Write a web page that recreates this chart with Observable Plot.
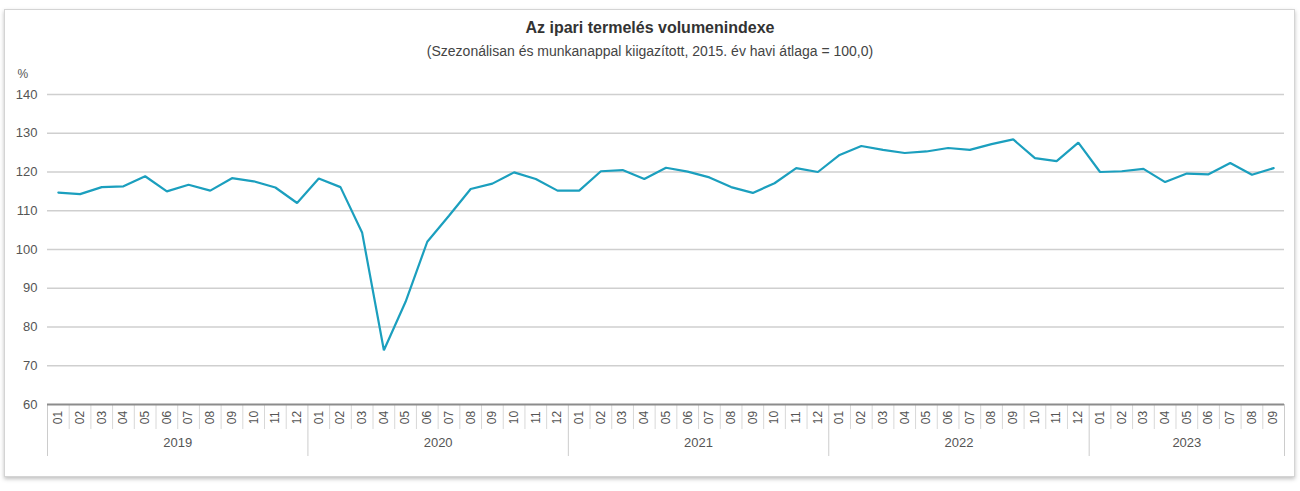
<!DOCTYPE html>
<html>
<head>
<meta charset="utf-8">
<script src="https://cdn.jsdelivr.net/npm/d3@7"></script>
<script src="https://cdn.jsdelivr.net/npm/@observablehq/plot@0.6"></script>
<style>
  html, body { margin: 0; padding: 0; background: #fff; }
  body { font-family: "Liberation Sans", Arial, sans-serif; }
  #wrap { position: relative; width: 1300px; height: 491px; overflow: hidden; }
  #card { position: absolute; left: 4px; top: 9px; width: 1289px; height: 466px;
          border: 1px solid #d4d4d4; box-shadow: 0 2px 4px rgba(0,0,0,0.25); background: #fff; }
  #header { position: relative; height: 64px; }
  #title { position: absolute; left: 0; width: 1300px; top: 18px; text-align: center;
           font-size: 16px; font-weight: bold; color: #333; line-height: 19px; }
  #subtitle { position: absolute; left: 0; width: 1300px; top: 43px; text-align: center;
              font-size: 14px; color: #444; line-height: 17px; }
  #chart { position: relative; }
</style>
</head>
<body>
<div id="wrap">
  <div id="card"></div>
  <div id="header">
    <div id="title"></div>
    <div id="subtitle"></div>
  </div>
  <div id="chart"></div>
</div>
<script>
const titleText = "Az ipari termelés volumenindexe";
const subtitleText = "(Szezonálisan és munkanappal kiigazított, 2015. év havi átlaga = 100,0)";
const unitLabel = "%";

const years = ["2019", "2020", "2021", "2022", "2023"];
const monthLabels = ["01","02","03","04","05","06","07","08","09","10","11","12"];
const monthsPerYear = [12, 12, 12, 12, 9];

const values2019 = [114.7, 114.3, 116.1, 116.3, 118.9, 115.0, 116.7, 115.2, 118.4, 117.6, 116.0, 112.0];
const values2020 = [118.3, 116.1, 104.3, 74.0, 86.5, 102.0, 108.7, 115.6, 117.0, 119.9, 118.2, 115.2];
const values2021 = [115.2, 120.2, 120.5, 118.2, 121.1, 120.1, 118.6, 116.1, 114.6, 117.1, 121.0, 120.0];
const values2022 = [124.4, 126.7, 125.7, 124.9, 125.3, 126.2, 125.7, 127.2, 128.4, 123.6, 122.8, 127.6];
const values2023 = [120.0, 120.2, 120.8, 117.4, 119.6, 119.4, 122.3, 119.3, 121.0];

const yTicks = [60, 70, 80, 90, 100, 110, 120, 130, 140];

document.getElementById("title").textContent = titleText;
document.getElementById("subtitle").textContent = subtitleText;

const seriesByYear = [values2019, values2020, values2021, values2022, values2023];
const data = [];
seriesByYear.forEach((vals, yi) => {
  vals.forEach((v, mi) => {
    data.push({i: data.length, year: years[yi], month: monthLabels[mi], value: v});
  });
});
const n = data.length;

// boundaries between months
const monthBounds = [];
const yearBounds = [-0.5];
let acc = 0;
monthsPerYear.forEach(c => { acc += c; yearBounds.push(acc - 0.5); });
for (let k = 0; k < n - 1; k++) {
  const b = k + 0.5;
  if (!yearBounds.includes(b)) monthBounds.push(b);
}
const yearCenters = [];
acc = 0;
monthsPerYear.forEach((c, yi) => { yearCenters.push({x: acc + (c - 1) / 2, label: years[yi]}); acc += c; });

const chart = Plot.plot({
  width: 1300,
  height: 427,
  marginLeft: 47,
  marginRight: 16,
  marginTop: 30,
  marginBottom: 87,
  style: {fontFamily: "'Liberation Sans', Arial, sans-serif", background: "transparent", color: "#555", overflow: "visible"},
  x: {domain: [-0.5, n - 0.5], axis: null},
  y: {domain: [60, 140], ticks: yTicks, tickSize: 0, tickPadding: 10, label: null, tickFormat: d => String(d)},
  marks: [
    Plot.ruleY(yTicks.filter(t => t > 60), {stroke: "#cfcfcf", strokeWidth: 1.3}),
    Plot.ruleX(monthBounds, {y1: 60, y2: 60, insetBottom: -25, stroke: "#d8d8d8", strokeWidth: 1}),
    Plot.ruleX(yearBounds, {y1: 60, y2: 60, insetBottom: -52, stroke: "#cccccc", strokeWidth: 1}),
    Plot.ruleY([60], {stroke: "#8c8c8c", strokeWidth: 2}),
    Plot.text(data, {x: "i", y: 60, text: "month", rotate: -90, dy: 13, fontSize: 12, fill: "#555", textAnchor: "middle"}),
    Plot.text(yearCenters, {x: "x", y: 60, text: "label", dy: 38, fontSize: 13, fill: "#555"}),
    Plot.text([unitLabel], {frameAnchor: "top-left", dx: -30, dy: -25, textAnchor: "start", fontSize: 12, fill: "#555"}),
    Plot.line(data, {x: "i", y: "value", stroke: "#1b9fbe", strokeWidth: 2.2, strokeLinejoin: "miter"})
  ]
});
chart.querySelectorAll("g[aria-label='y-axis tick label'] text, g[aria-label='y-axis tick label']").forEach(el => el.setAttribute("font-size", "13"));
document.getElementById("chart").appendChild(chart);
</script>
</body>
</html>
